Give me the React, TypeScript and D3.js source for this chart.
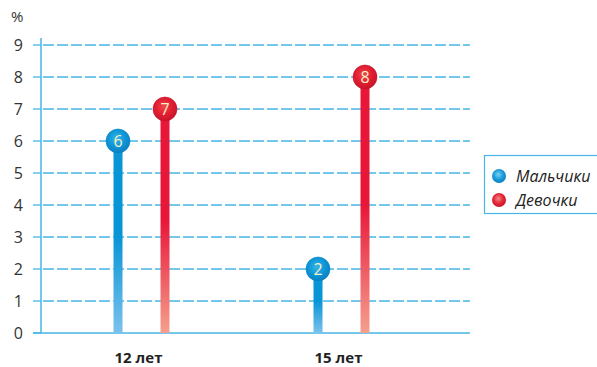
import React, { useEffect, useRef } from 'react';
import * as d3 from 'd3';

const groups = ['12 лет', '15 лет'];
const seriesNames = ['Мальчики', 'Девочки'];
const boys = [6, 2];
const girls = [7, 8];
const yTicks = [0, 1, 2, 3, 4, 5, 6, 7, 8, 9];

const App: React.FC = () => {
  const svgRef = useRef<SVGSVGElement | null>(null);

  useEffect(() => {
    if (!svgRef.current) return;
    const svg = d3.select(svgRef.current);
    svg.selectAll('*').remove();

    const axisColor = '#45b6e6';
    const font = '"Open Sans", "Noto Sans", sans-serif';

    // group centres and offsets of the two series inside a group
    const x0 = d3.scalePoint<string>().domain(groups).range([141.5, 341.5]);
    const x1 = d3.scalePoint<string>().domain(seriesNames).range([-23.5, 23.5]);
    const y = d3.scaleLinear().domain([0, 9]).range([333, 45]);

    const defs = svg.append('defs');
    const mkBar = (id: string, top: string, bottom: string) => {
      const g = defs.append('linearGradient').attr('id', id).attr('x1', 0).attr('y1', 0).attr('x2', 0).attr('y2', 1);
      g.append('stop').attr('offset', '0%').attr('stop-color', top);
      g.append('stop').attr('offset', '50%').attr('stop-color', top);
      g.append('stop').attr('offset', '100%').attr('stop-color', bottom);
    };
    mkBar('barBlue', '#0895d6', '#7cc2ec');
    mkBar('barRed', '#e8173a', '#f5a08e');
    const mkBall = (id: string, light: string, mid: string, dark: string) => {
      const g = defs.append('radialGradient').attr('id', id).attr('cx', '45%').attr('cy', '40%').attr('r', '60%');
      g.append('stop').attr('offset', '0%').attr('stop-color', light);
      g.append('stop').attr('offset', '55%').attr('stop-color', mid);
      g.append('stop').attr('offset', '100%').attr('stop-color', dark);
    };
    mkBall('ballBlue', '#3cb4ea', '#0e98d8', '#0a7fc0');
    mkBall('ballRed', '#f0464e', '#e21f33', '#c8142a');
    mkBall('legBlue', '#7fd0f5', '#1c9fdc', '#0b7fc0');
    mkBall('legRed', '#f48a8a', '#e42a37', '#c8142a');

    // grid
    svg.append('g').selectAll('line').data(yTicks.filter(t => t > 0)).enter().append('line')
      .attr('x1', 41).attr('x2', 470)
      .attr('y1', d => y(d)).attr('y2', d => y(d))
      .attr('stroke', axisColor).attr('stroke-width', 1.3)
      .attr('stroke-dasharray', '11,3').attr('stroke-dashoffset', -2);

    // ticks + labels
    const tg = svg.append('g');
    tg.selectAll('line').data(yTicks).enter().append('line')
      .attr('x1', 33).attr('x2', 41)
      .attr('y1', d => y(d)).attr('y2', d => y(d))
      .attr('stroke', axisColor).attr('stroke-width', 1.3);
    tg.selectAll('text').data(yTicks).enter().append('text')
      .attr('x', 23).attr('y', d => y(d) + 6)
      .attr('text-anchor', 'end')
      .attr('font-family', font).attr('font-size', 16).attr('fill', '#333')
      .text(d => String(d));

    svg.append('text').attr('x', 11).attr('y', 22)
      .attr('font-family', font).attr('font-size', 15).attr('fill', '#333').text('%');

    // axes
    svg.append('line').attr('x1', 41).attr('x2', 41).attr('y1', 38).attr('y2', 333)
      .attr('stroke', axisColor).attr('stroke-width', 1.5);
    svg.append('line').attr('x1', 33).attr('x2', 470).attr('y1', 333).attr('y2', 333)
      .attr('stroke', axisColor).attr('stroke-width', 1.5);

    const series = [
      { name: seriesNames[0], values: boys, bar: 'url(#barBlue)', ball: 'url(#ballBlue)', edge: '#0a86c8' },
      { name: seriesNames[1], values: girls, bar: 'url(#barRed)', ball: 'url(#ballRed)', edge: '#c8142a' },
    ];

    const bw = 9;
    series.forEach(s => {
      const g = svg.append('g');
      groups.forEach((grp, i) => {
        const cx = (x0(grp) ?? 0) + (x1(s.name) ?? 0);
        const v = s.values[i];
        g.append('rect').attr('x', cx - bw / 2).attr('y', y(v)).attr('width', bw)
          .attr('height', y(0) - y(v)).attr('fill', s.bar);
        g.append('circle').attr('cx', cx).attr('cy', y(v)).attr('r', 12)
          .attr('fill', s.ball).attr('stroke', s.edge).attr('stroke-width', 0.6);
        g.append('text').attr('x', cx).attr('y', y(v) + 6)
          .attr('text-anchor', 'middle').attr('font-family', font).attr('font-size', 16)
          .attr('fill', '#f8f2c4').text(String(v));
      });
    });

    // group labels
    svg.append('g').selectAll('text').data(groups).enter().append('text')
      .attr('x', d => (x0(d) ?? 0) - 3)
      .attr('y', 363)
      .attr('text-anchor', 'middle').attr('font-family', font).attr('font-size', 15)
      .attr('font-weight', 'bold').attr('fill', '#222').text(d => d);

    // legend
    const lg = svg.append('g');
    lg.append('rect').attr('x', 484.5).attr('y', 155.5).attr('width', 116).attr('height', 58)
      .attr('fill', 'white').attr('stroke', axisColor).attr('stroke-width', 1.2);
    const legFills = ['url(#legBlue)', 'url(#legRed)'];
    seriesNames.forEach((n, i) => {
      const yy = 176 + i * 24;
      lg.append('circle').attr('cx', 499).attr('cy', yy).attr('r', 7).attr('fill', legFills[i]);
      lg.append('text').attr('x', 516).attr('y', yy + 5.5)
        .attr('font-family', font).attr('font-size', 16).attr('font-style', 'italic')
        .attr('fill', '#222').text(n);
    });
  }, []);

  return (
    <svg ref={svgRef} width={597} height={367} style={{ position: 'absolute', left: 0, top: 0 }} />
  );
};

export default App;
